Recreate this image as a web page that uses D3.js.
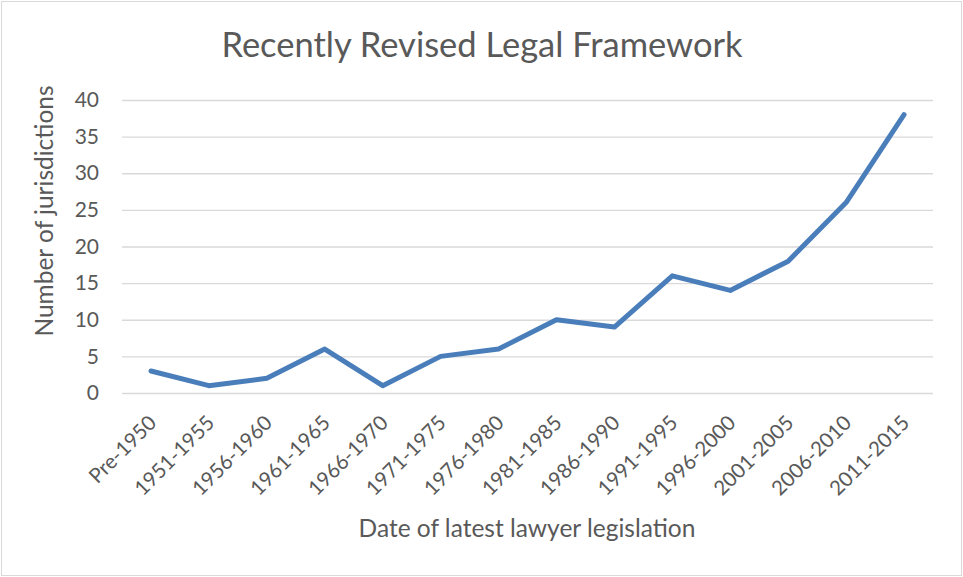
<!DOCTYPE html>
<html>
<head>
<meta charset="utf-8">
<script src="https://cdn.jsdelivr.net/npm/d3@7"></script>
<style>
  body { margin: 0; background: #fff; }
  text { font-family: Lato, "Open Sans", sans-serif; fill: #595959; }
</style>
</head>
<body>
<svg id="drawing_region"></svg>
<script>
const categories = ["Pre-1950", "1951-1955", "1956-1960", "1961-1965", "1966-1970", "1971-1975",
    "1976-1980", "1981-1985", "1986-1990", "1991-1995", "1996-2000", "2001-2005", "2006-2010", "2011-2015"];
const jurisdictions = [3, 1, 2, 6, 1, 5, 6, 10, 9, 16, 14, 18, 26, 38];
const yTicks = [0, 5, 10, 15, 20, 25, 30, 35, 40];

const width = 963, height = 577;
const margin = {top: 100, right: 30, bottom: 184, left: 122};

const svg = d3.select('#drawing_region')
    .attr('width', width)
    .attr('height', height);

// chart border
svg.append('rect')
    .attr('x', 1.5).attr('y', 1.5)
    .attr('width', width - 3).attr('height', height - 3)
    .attr('fill', '#fff')
    .attr('stroke', '#d9d9d9');

const inner_width = width - margin.left - margin.right;
const inner_height = height - margin.top - margin.bottom;

const chart = svg.append('g')
    .attr('transform', `translate(${margin.left}, ${margin.top})`);

const xscale = d3.scalePoint()
    .domain(categories)
    .range([0, inner_width])
    .padding(0.5);

const yscale = d3.scaleLinear()
    .domain([0, 40])
    .range([inner_height, 0]);

// gridlines + y labels
const yaxis = d3.axisLeft(yscale)
    .tickValues(yTicks)
    .tickSize(-inner_width)
    .tickPadding(23);

chart.append('g')
    .call(yaxis)
    .call(g => g.select('.domain').remove())
    .call(g => g.selectAll('line').attr('stroke', '#d9d9d9').attr('stroke-width', 1.3))
    .call(g => g.selectAll('text').attr('font-size', 21).style('fill', '#595959')
        .style('font-family', 'Lato, "Open Sans", sans-serif'));

// x axis labels
const xaxis = d3.axisBottom(xscale).tickSize(0).tickPadding(10);
chart.append('g')
    .attr('transform', `translate(0, ${inner_height})`)
    .call(xaxis)
    .call(g => g.select('.domain').remove())
    .call(g => g.selectAll('text')
        .attr('font-size', 20.5)
        .style('fill', '#595959')
        .style('font-family', 'Lato, "Open Sans", sans-serif')
        .attr('text-anchor', 'end')
        .attr('dy', '0.35em')
        .attr('transform', 'translate(-6, 19) rotate(-45)'));

// line
const line = d3.line()
    .x((d, i) => xscale(categories[i]))
    .y(d => yscale(d));

chart.append('path')
    .datum(jurisdictions)
    .attr('d', line)
    .attr('fill', 'none')
    .attr('stroke', '#4a7ebb')
    .attr('stroke-width', 5)
    .attr('stroke-linejoin', 'round')
    .attr('stroke-linecap', 'round');

// title
svg.append('text')
    .attr('x', 482).attr('y', 57)
    .attr('text-anchor', 'middle')
    .attr('font-size', 34.5)
    .text('Recently Revised Legal Framework');

// axis titles
svg.append('text')
    .attr('x', 527).attr('y', 537)
    .attr('text-anchor', 'middle')
    .attr('font-size', 24.5)
    .text('Date of latest lawyer legislation');

svg.append('text')
    .attr('transform', 'translate(53, 211) rotate(-90)')
    .attr('text-anchor', 'middle')
    .attr('font-size', 24.5)
    .text('Number of jurisdictions');
</script>
</body>
</html>
